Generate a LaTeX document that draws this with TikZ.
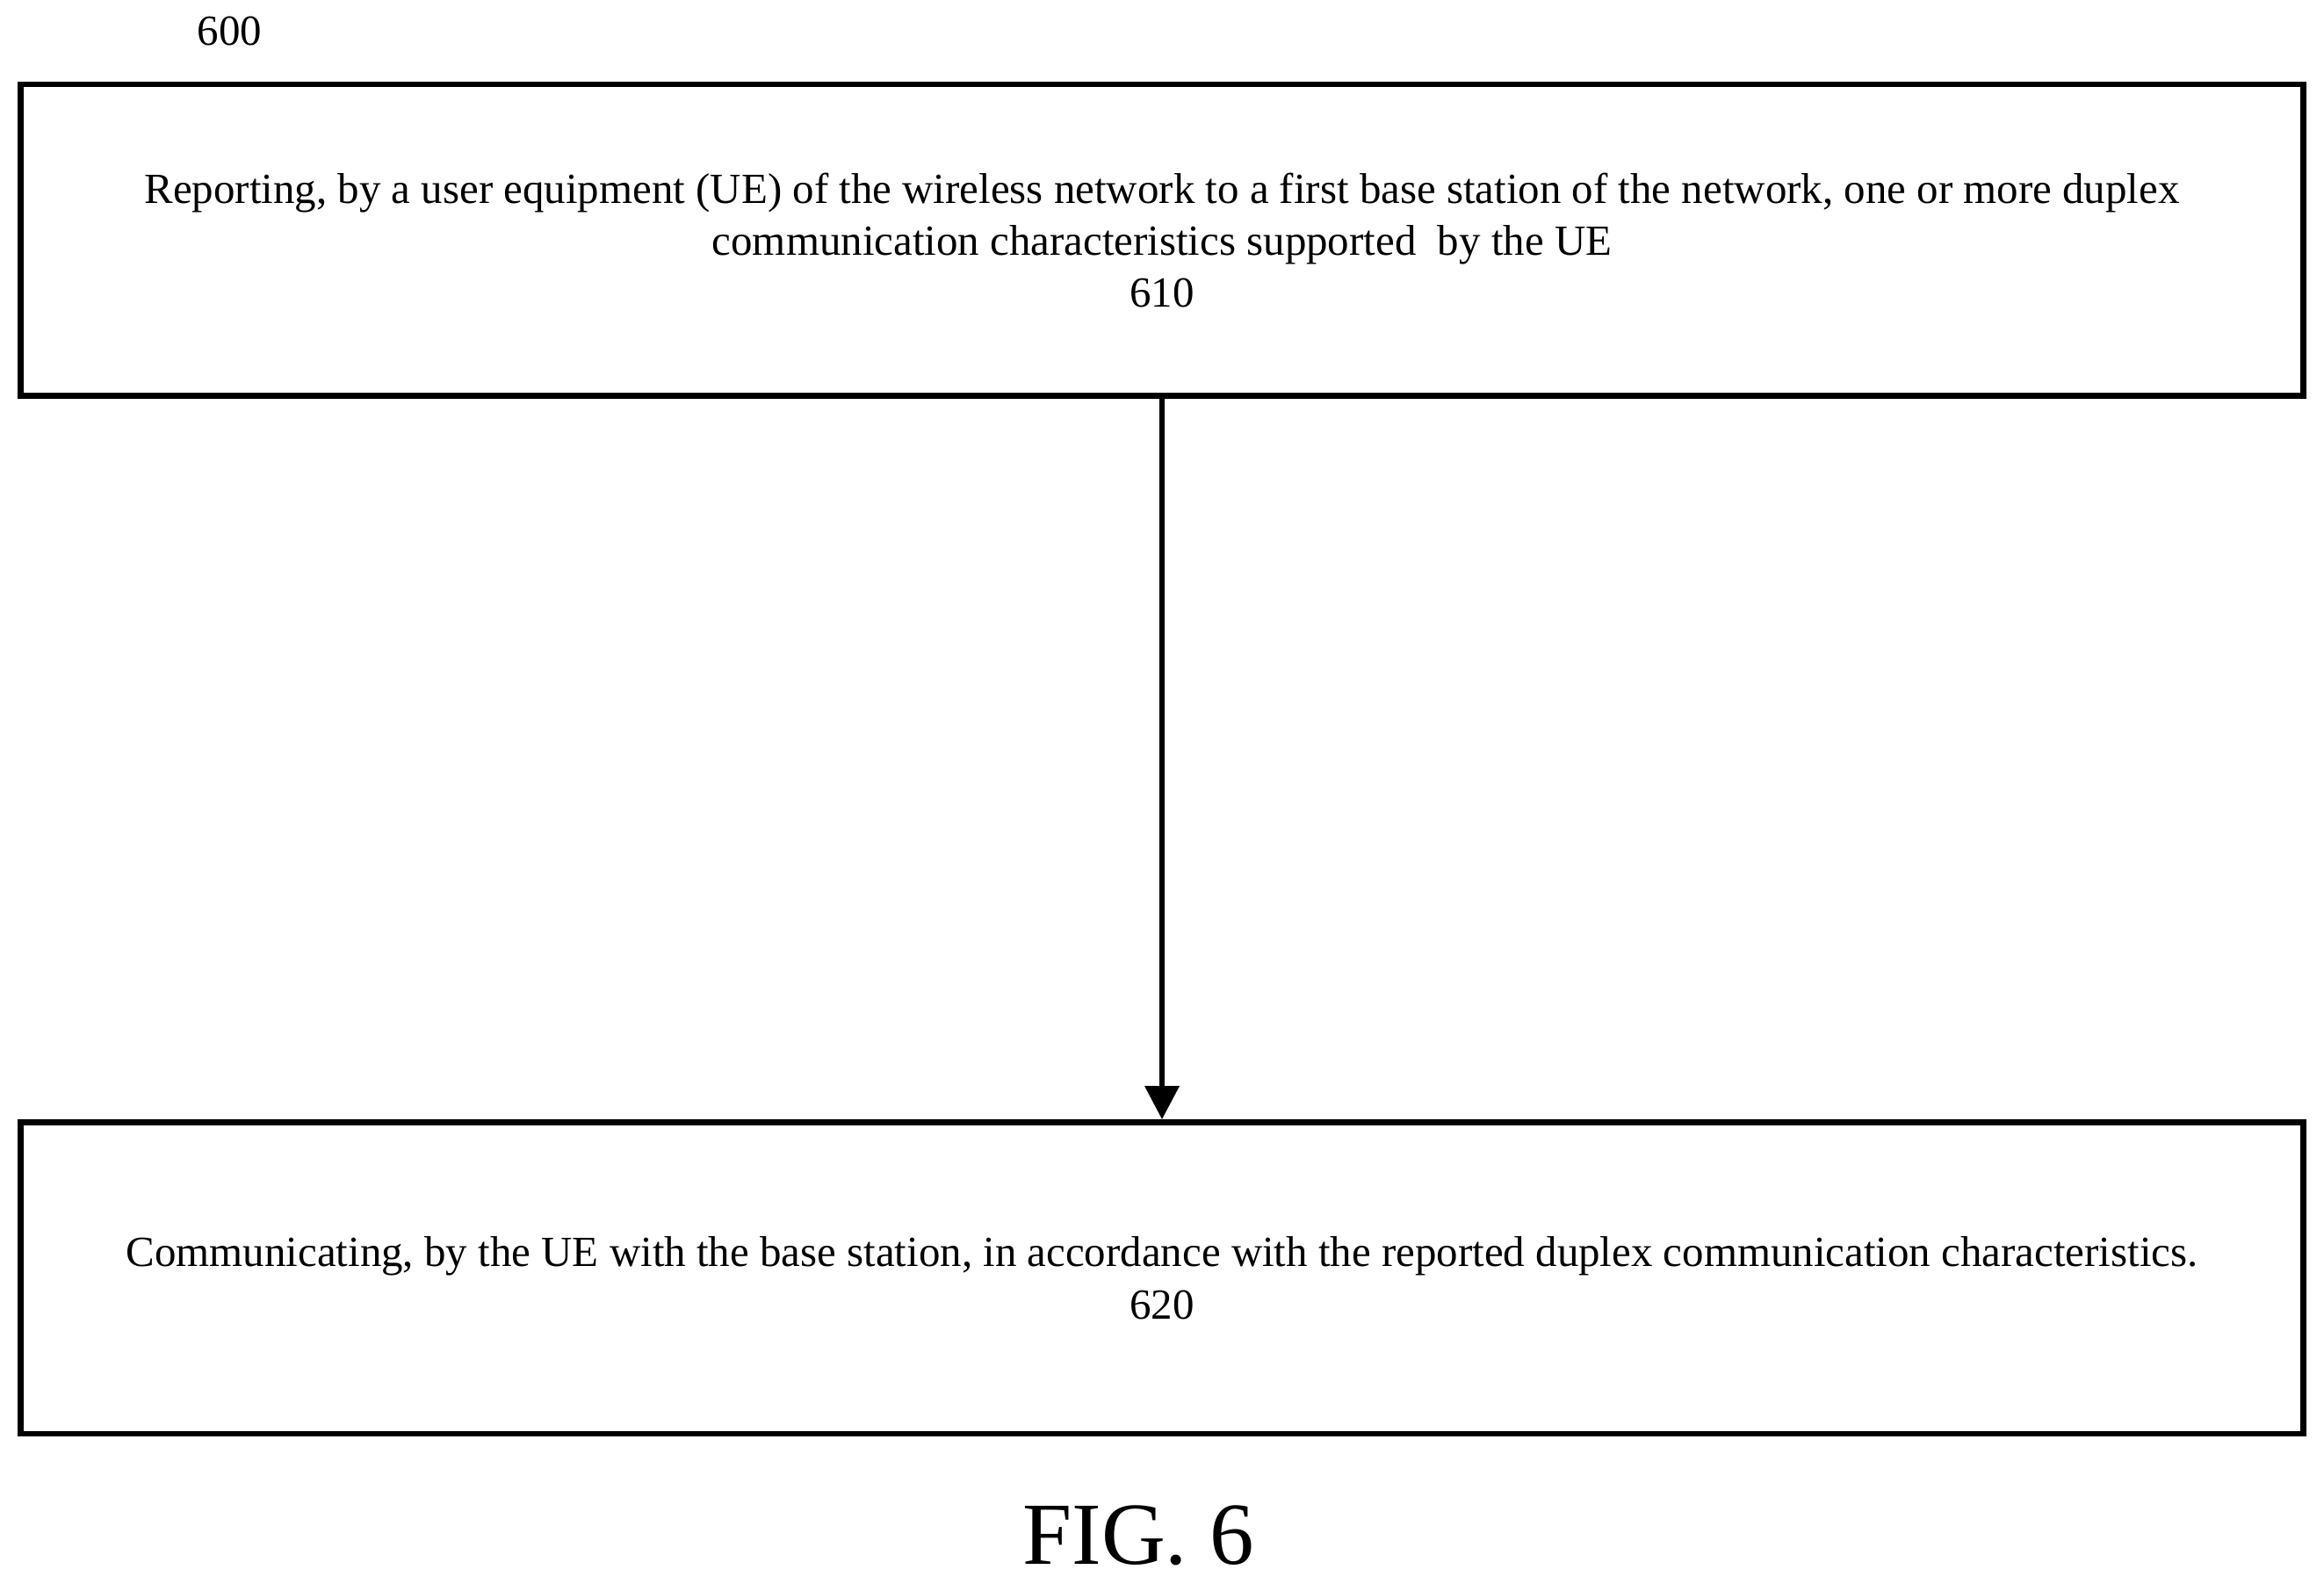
\documentclass[tikz,border=0pt]{standalone}
\usepackage{fontspec}
\setmainfont{Liberation Serif}
\usetikzlibrary{positioning,arrows.meta}
\tikzset{
  stepbox/.style={draw, line width=2.2pt, minimum width=30.8cm, minimum height=4.2cm, align=center, font=\fontsize{16.5}{20}\selectfont},
  flow/.style={-{Triangle[length=0.45cm,width=0.45cm]}, line width=2.2pt}
}
\begin{document}
\begin{tikzpicture}
      \useasboundingbox (0,0) rectangle (31.36,-21.36);
      %Etichetta
      \node[font=\fontsize{16.5}{20}\selectfont] (lab) at (3.1,-0.42) {600};
      %Blocchi
      \node[stepbox] (s610) at (15.68,-3.24) {Reporting, by a user equipment (UE) of the wireless network to a first base station of the network, one or more duplex\\communication characteristics supported\ \ by the UE\\610};
      \node[stepbox] (s620) at (15.68,-17.24) {Communicating, by the UE with the base station, in accordance with the reported duplex communication characteristics.\\620};
      %Freccia
      \draw[flow] (s610) -- (s620);
      \node[font=\fontsize{34}{40}\selectfont] (fig) at (15.36,-20.72) {FIG. 6};
\end{tikzpicture}
\end{document}
